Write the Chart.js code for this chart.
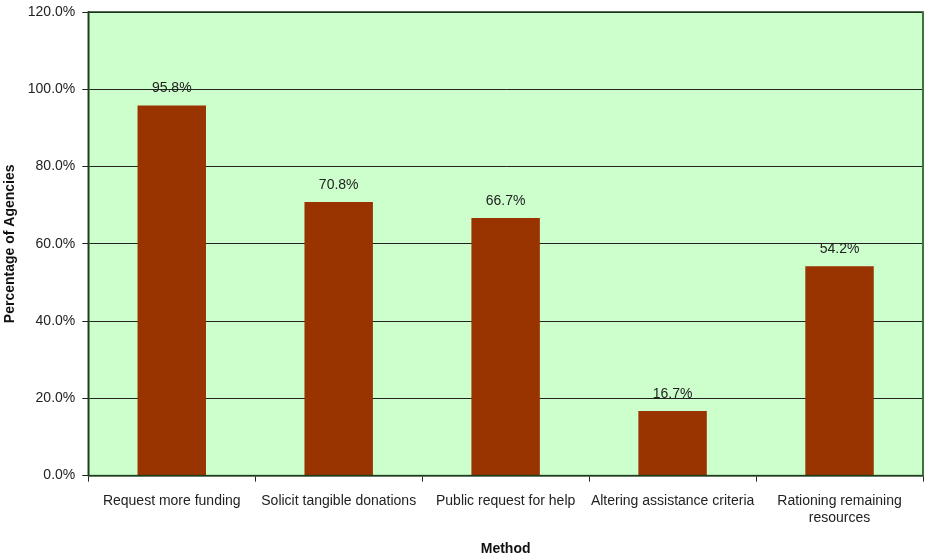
<!DOCTYPE html>
<html><head><meta charset="utf-8">
<script src="https://cdn.jsdelivr.net/npm/chart.js@4"></script>
<style>html,body{margin:0;padding:0;background:#fff}#wrap{width:925px;height:559px}</style>
</head><body><div id="wrap"><canvas id="c" width="925" height="559"></canvas></div>
<script>
const categories = ["Request more funding","Solicit tangible donations","Public request for help","Altering assistance criteria",["Rationing remaining","resources"]];
const values = [95.8, 70.8, 66.7, 16.7, 54.2];
const yTicks = [0,20,40,60,80,100,120];
const FONT = "'Liberation Sans Narrow', 'Arial Narrow', 'Liberation Sans', sans-serif";

const bgPlugin = {
  id:'bg',
  beforeDraw(chart){
    const {ctx, chartArea:a} = chart;
    ctx.save(); ctx.fillStyle='#CCFFCC'; ctx.fillRect(a.left,a.top,a.right-a.left,a.bottom-a.top); ctx.restore();
  },
  afterDraw(chart){
    const {ctx, chartArea:a} = chart;
    ctx.save(); ctx.strokeStyle='#1d3d1d'; ctx.lineWidth=1.5;
    ctx.strokeRect(a.left,a.top,a.right-a.left,a.bottom-a.top);
    ctx.strokeStyle='#3f7040'; ctx.lineWidth=2; ctx.beginPath(); ctx.moveTo(a.right,a.top); ctx.lineTo(a.right,a.bottom); ctx.stroke();
    ctx.restore();
  }
};
const labelPlugin = {
  id:'lbl',
  afterDatasetsDraw(chart){
    const {ctx} = chart; const meta = chart.getDatasetMeta(0);
    ctx.save(); ctx.font = '14px '+FONT; ctx.fillStyle='#222'; ctx.textAlign='center'; ctx.textBaseline='bottom';
    meta.data.forEach((b,i)=>{ ctx.fillText(values[i].toFixed(1)+'%', b.x, b.y-10); });
    ctx.restore();
  }
};
new Chart(document.getElementById('c'), {
  type:'bar',
  data:{labels:categories, datasets:[{data:values, backgroundColor:'#993300', borderWidth:0, categoryPercentage:0.82, barPercentage:0.5}]},
  options:{
    responsive:false, animation:false, devicePixelRatio:1,
    layout:{padding:{top:12, right:2, left:0, bottom:0}},
    plugins:{legend:{display:false}, tooltip:{enabled:false}},
    scales:{
      x:{
        grid:{display:true, drawOnChartArea:false, tickLength:6, color:'#222', offset:true},
        border:{display:true, color:'#1d3d1d', width:1.5},
        ticks:{font:{size:14, family:FONT}, color:'#222', padding:11, maxRotation:0, autoSkip:false},
        title:{display:true, text:'Method', font:{size:14, weight:'bold', family:FONT}, color:'#111', padding:{top:4, bottom:1}}
      },
      y:{
        min:0, max:120,
        afterBuildTicks(s){ s.ticks = yTicks.map(v=>({value:v})); },
        afterFit(s){ s.paddingTop = 0; },
        grid:{color:'#222', lineWidth:1, tickLength:6, drawTicks:true},
        border:{display:true, color:'#1d3d1d', width:1.5},
        ticks:{font:{size:14, family:FONT}, color:'#222', padding:7, callback:v=>v.toFixed(1)+'%'},
        title:{display:true, text:'Percentage of Agencies', font:{size:14, weight:'bold', family:FONT}, color:'#111', padding:{top:2,bottom:2}}
      }
    }
  },
  plugins:[bgPlugin, labelPlugin]
});
</script></body></html>
